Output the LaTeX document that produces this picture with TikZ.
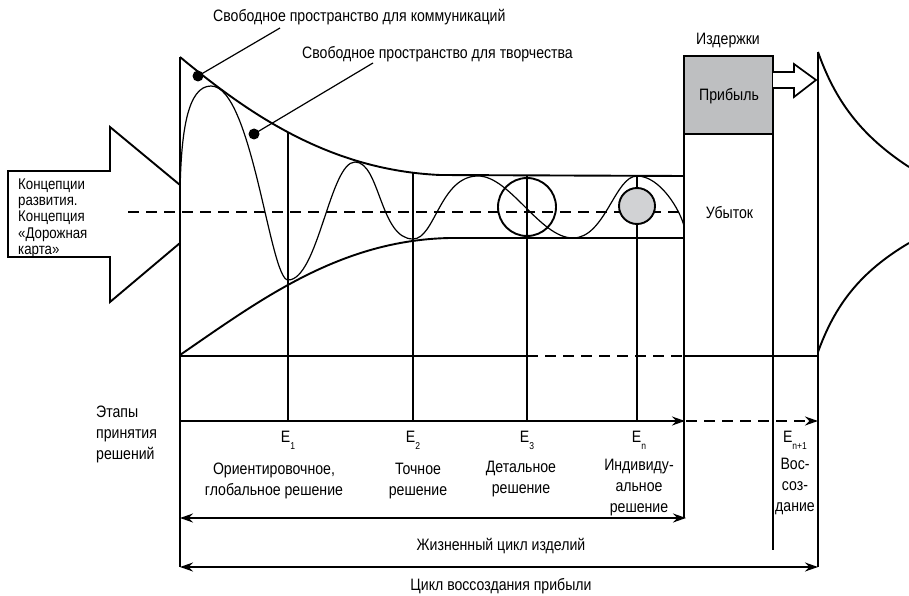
\documentclass[tikz,border=0pt]{standalone}
\usepackage{fontspec}
\setmainfont[FakeStretch=0.855]{Liberation Sans}
\usetikzlibrary{arrows.meta}
\definecolor{profitgray}{RGB}{190,191,193}
\definecolor{circgray}{RGB}{209,210,212}
\newcommand{\Estage}[1]{E\raisebox{-7pt}{\fontsize{10}{10}\selectfont #1}}
\begin{document}
\begin{tikzpicture}[x=1pt,y=-1pt,
  mainline/.style={line width=1.9pt},
  gridline/.style={line width=1.5pt},
  thinline/.style={line width=1.2pt},
  waveline/.style={line width=1.2pt},
  dashline/.style={line width=1.5pt, dash pattern=on 11pt off 7pt},
  lbl/.style={inner sep=0pt, font=\fontsize{16.5}{21}\selectfont},
  smalllbl/.style={inner sep=0pt, font=\fontsize{15.5}{16.4}\selectfont},
  tipend/.style={-{Stealth[length=13pt,width=9pt]}},
  tipboth/.style={{Stealth[length=13pt,width=9pt]}-{Stealth[length=13pt,width=9pt]}},
  dotmark/.style={circle, fill=black, inner sep=0pt, minimum size=11pt},
]
\useasboundingbox (0,0) rectangle (909,596);

% left block arrow
\draw[mainline, fill=white, line join=miter] (180,185) -- (110,127) -- (110,171) -- (8,171) -- (8,257) -- (110,257) -- (110,302) -- (180,243);
\node[smalllbl, anchor=north west, align=left] (concept) at (18,178.2) {Концепции\\развития.\\Концепция\\«Дорожная\\карта»};

% dashed centre line
\draw[dashline] (128,212) -- (684,212);

% envelopes
\draw[mainline] (180,57) .. controls (250,115) and (330,170) .. (440,175) -- (684,176);
\draw[mainline] (180,355) .. controls (260,300) and (340,240) .. (450,238) -- (684,238);

% stage verticals
\draw[gridline] (288,132) -- (288,421);
\draw[gridline] (413,173) -- (413,421);
\draw[gridline] (527,176) -- (527,421);
\draw[gridline] (637,176) -- (637,421);

% wave
\draw[waveline] (180,205) .. controls (180,130) and (188,86) .. (211,86)
 .. controls (252,86) and (270,280) .. (288,280)
 .. controls (318,280) and (330,162) .. (355,162)
 .. controls (380,162) and (380,239) .. (413,239)
 .. controls (435,239) and (440,176) .. (478,176)
 .. controls (510,176) and (540,238) .. (573,238)
 .. controls (605,238) and (615,176) .. (637,176)
 .. controls (660,176) and (680,210) .. (684,226);

% circles
\node[circle, draw, line width=1.9pt, minimum size=58pt, inner sep=0pt] (c3) at (527,207) {};
\node[circle, draw, line width=1.9pt, fill=circgray, minimum size=36pt, inner sep=0pt] (cn) at (637,206) {};

% dots and leaders
\node[dotmark] (dot1) at (198,76) {};
\node[dotmark] (dot2) at (254,134) {};
\coordinate (lead1) at (280,28);
\coordinate (lead2) at (373,63);
\draw[thinline] (dot1.center) -- (lead1);
\draw[thinline] (dot2.center) -- (lead2);
\node[lbl, anchor=base west] (comm) at (213,21.5) {Свободное пространство для коммуникаций};
\node[lbl, anchor=base west] (creat) at (302,58.3) {Свободное пространство для творчества};

% left vertical
\draw[mainline] (180,57) -- (180,567);

% baseline
\draw[mainline] (180,356) -- (527,356);
\draw[dashline] (527,356) -- (684,356);
\draw[line width=2.6pt] (773,356) -- (818,356);

% cost box
\draw[mainline, fill=profitgray] (684,56) rectangle (773,134);
\draw[mainline] (684,134) rectangle (773,356);
\node[lbl, anchor=base] (izd) at (728,45) {Издержки};
\node[lbl, anchor=base] (prib) at (729,100.7) {Прибыль};
\node[lbl, anchor=base] (ub) at (729.5,218) {Убыток};
\draw[gridline] (684,356) -- (684,518);
\draw[gridline] (773,356) -- (773,550);

% hollow arrow
\draw[line width=1.7pt, fill=white, line join=miter] (773,72) -- (794,72) -- (794,64) -- (816,80) -- (794,97) -- (794,88) -- (773,88);

% right side
\draw[mainline] (818,52) -- (818,567);
\draw[mainline] (818,52) .. controls (835,100) and (860,135) .. (909,167);
\draw[mainline] (818,352) .. controls (835,305) and (860,272) .. (909,243);

% decision axis
\draw[gridline, tipend] (180,421) -- (685,421);
\draw[dashline, tipend] (686,421) -- (818,421);

% cycles
\draw[gridline, tipboth] (180,518) -- (686,518);
\draw[gridline, tipboth] (180,567) -- (818,567);

% labels
\node[lbl, anchor=north west, align=left] (etapy) at (96,406.2) {Этапы\\принятия\\решений};
\node[lbl, anchor=base] (e1) at (288,442) {\Estage{1}};
\node[lbl, anchor=base] (e2) at (413,442) {\Estage{2}};
\node[lbl, anchor=base] (e3) at (527,442) {\Estage{3}};
\node[lbl, anchor=base] (en) at (639,442) {\Estage{n}};
\node[lbl, anchor=base] (en1) at (795,442) {\Estage{n+1}};
\node[lbl, anchor=north, align=center] (d1) at (274,462.5) {Ориентировочное,\\глобальное решение};
\node[lbl, anchor=north, align=center] (d2) at (418,462.5) {Точное\\решение};
\node[lbl, anchor=north, align=center] (d3) at (521,461.2) {Детальное\\решение};
\node[lbl, anchor=north, align=center] (dn) at (639,458.9) {Индивиду-\\альное\\решение};
\node[lbl, anchor=north, align=center] (dn1) at (795,458.2) {Вос-\\соз-\\дание};
\node[lbl, anchor=base] (life) at (501,550) {Жизненный цикл изделий};
\node[lbl, anchor=base] (prof) at (501,590) {Цикл воссоздания прибыли};
\end{tikzpicture}
\end{document}
